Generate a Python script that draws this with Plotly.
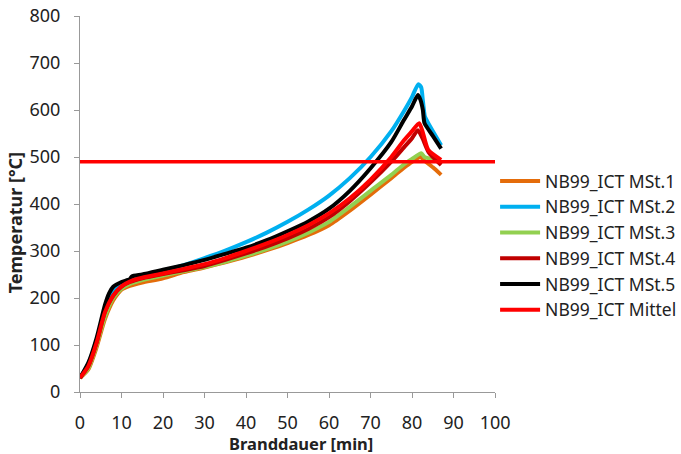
import plotly.graph_objects as go

# MSt.1 (orange)
x1 = [0, 2, 4, 6, 8, 9.2, 10, 12, 15, 20, 25, 30, 35, 40, 45, 50, 55, 60, 65, 70, 75, 78, 80, 82, 83, 85, 87]
y1 = [30, 48, 95, 155, 195, 210, 218, 226, 233, 242, 255, 265, 276, 288, 302, 317, 334, 355, 386, 420, 455, 477, 490, 500, 492, 478, 462]
# MSt.2 (blue)
x2 = [0, 2, 4, 6, 8, 10, 12, 15, 20, 25, 30, 35, 40, 45, 50, 55, 60, 65, 70, 75, 78, 80, 81.5, 82.2, 82.6, 83.1, 83.9, 87]
y2 = [30, 60, 110, 175, 215, 228, 238, 247, 258, 270, 285, 301, 319, 339, 362, 388, 418, 455, 500, 555, 597, 628, 655, 648, 620, 586, 572, 525]
# MSt.3 (green)
x3 = [0, 2, 4, 6, 8, 10, 12, 15, 20, 25, 30, 35, 40, 45, 50, 55, 60, 65, 70, 75, 78, 80, 82.2, 83, 85.5]
y3 = [30, 50, 100, 160, 200, 220, 230, 238, 248, 257, 266, 277, 290, 304, 320, 339, 362, 394, 428, 462, 484, 496, 508, 500, 494]
# MSt.4 (dark red)
x4 = [0, 2, 4, 6, 8, 10, 12, 15, 20, 25, 30, 35, 40, 45, 50, 55, 60, 65, 70, 75, 78, 80, 81.4, 82.5, 84, 87]
y4 = [30, 55, 105, 170, 205, 224, 234, 242, 251, 259, 268, 281, 295, 310, 327, 347, 372, 406, 446, 490, 520, 540, 557, 540, 510, 483]
# MSt.5 (black)
x5 = [0, 2, 4, 6, 7, 8, 10, 12, 12.5, 15, 20, 25, 30, 35, 40, 45, 50, 55, 60, 65, 70, 75, 78, 80, 81.4, 82, 82.6, 83, 85, 87]
y5 = [30, 62, 115, 185, 210, 224, 234, 240, 246, 250, 260, 270, 281, 294, 307, 323, 342, 363, 390, 428, 476, 532, 578, 608, 632, 622, 600, 572, 545, 518]
# Mittel (red)
x6 = [0, 2, 4, 6, 8, 10, 12, 15, 20, 25, 30, 35, 40, 45, 50, 55, 60, 65, 70, 75, 78, 80, 81.7, 82.5, 83.9, 87]
y6 = [30, 55, 105, 170, 205, 225, 235, 243, 252, 262, 272, 285, 300, 316, 334, 355, 380, 412, 452, 500, 535, 555, 572, 555, 515, 494]

threshold_x = [0, 100]
threshold_y = [490, 490]

names = ["NB99_ICT MSt.1", "NB99_ICT MSt.2", "NB99_ICT MSt.3", "NB99_ICT MSt.4", "NB99_ICT MSt.5", "NB99_ICT Mittel"]
colors = ["#E46C0A", "#00B0F0", "#92D050", "#C00000", "#000000", "#FF0000"]
xs = [x1, x2, x3, x4, x5, x6]
ys = [y1, y2, y3, y4, y5, y6]

fig = go.Figure()
for x, y, n, c in zip(xs, ys, names, colors):
    fig.add_trace(go.Scatter(x=x, y=y, name=n, mode="lines",
                             line=dict(color=c, width=4, shape="spline", smoothing=0.6)))
fig.add_trace(go.Scatter(x=threshold_x, y=threshold_y, mode="lines", showlegend=False,
                         line=dict(color="#FF0000", width=3.5)))

font = "Noto Sans, DejaVu Sans, sans-serif"
fig.update_layout(
    width=681, height=454,
    margin=dict(l=80, r=184, t=16, b=62),
    paper_bgcolor="white", plot_bgcolor="white",
    font=dict(family=font, size=15, color="#222"),
    showlegend=True,
    legend=dict(xref="container", yref="container", x=0.727, y=(454 - 245.5) / 454,
                xanchor="left", yanchor="middle",
                font=dict(size=17.5, color="#222"), tracegroupgap=0,
                itemwidth=40, bgcolor="rgba(0,0,0,0)"),
    xaxis=dict(range=[0, 100], tickvals=list(range(0, 101, 10)), showgrid=False, zeroline=False,
               showline=True, linecolor="#999", linewidth=1, ticks="outside", ticklen=5,
               tickcolor="#999", ticklabelstandoff=9, automargin=False,
               tickfont=dict(size=18, color="#222")),
    yaxis=dict(range=[0, 800], tickvals=list(range(0, 801, 100)), showgrid=False, zeroline=False,
               showline=True, linecolor="#999", linewidth=1, ticks="outside", ticklen=5,
               tickcolor="#999", ticklabelstandoff=10, automargin=False,
               tickfont=dict(size=18, color="#222")),
    annotations=[
        dict(text="<b>Branddauer [min]</b>", xref="paper", yref="paper",
             x=(302 - 80) / 417, y=-(443.5 - 392) / 376, xanchor="center", yanchor="middle",
             showarrow=False, font=dict(size=16.5, color="#222")),
        dict(text="<b>Temperatur [°C]</b>", xref="paper", yref="paper", textangle=-90,
             x=(15 - 80) / 417, y=1 - (223 - 16) / 376, xanchor="center", yanchor="middle",
             showarrow=False, font=dict(size=18, color="#222")),
    ],
)

fig.write_html("out.html")
